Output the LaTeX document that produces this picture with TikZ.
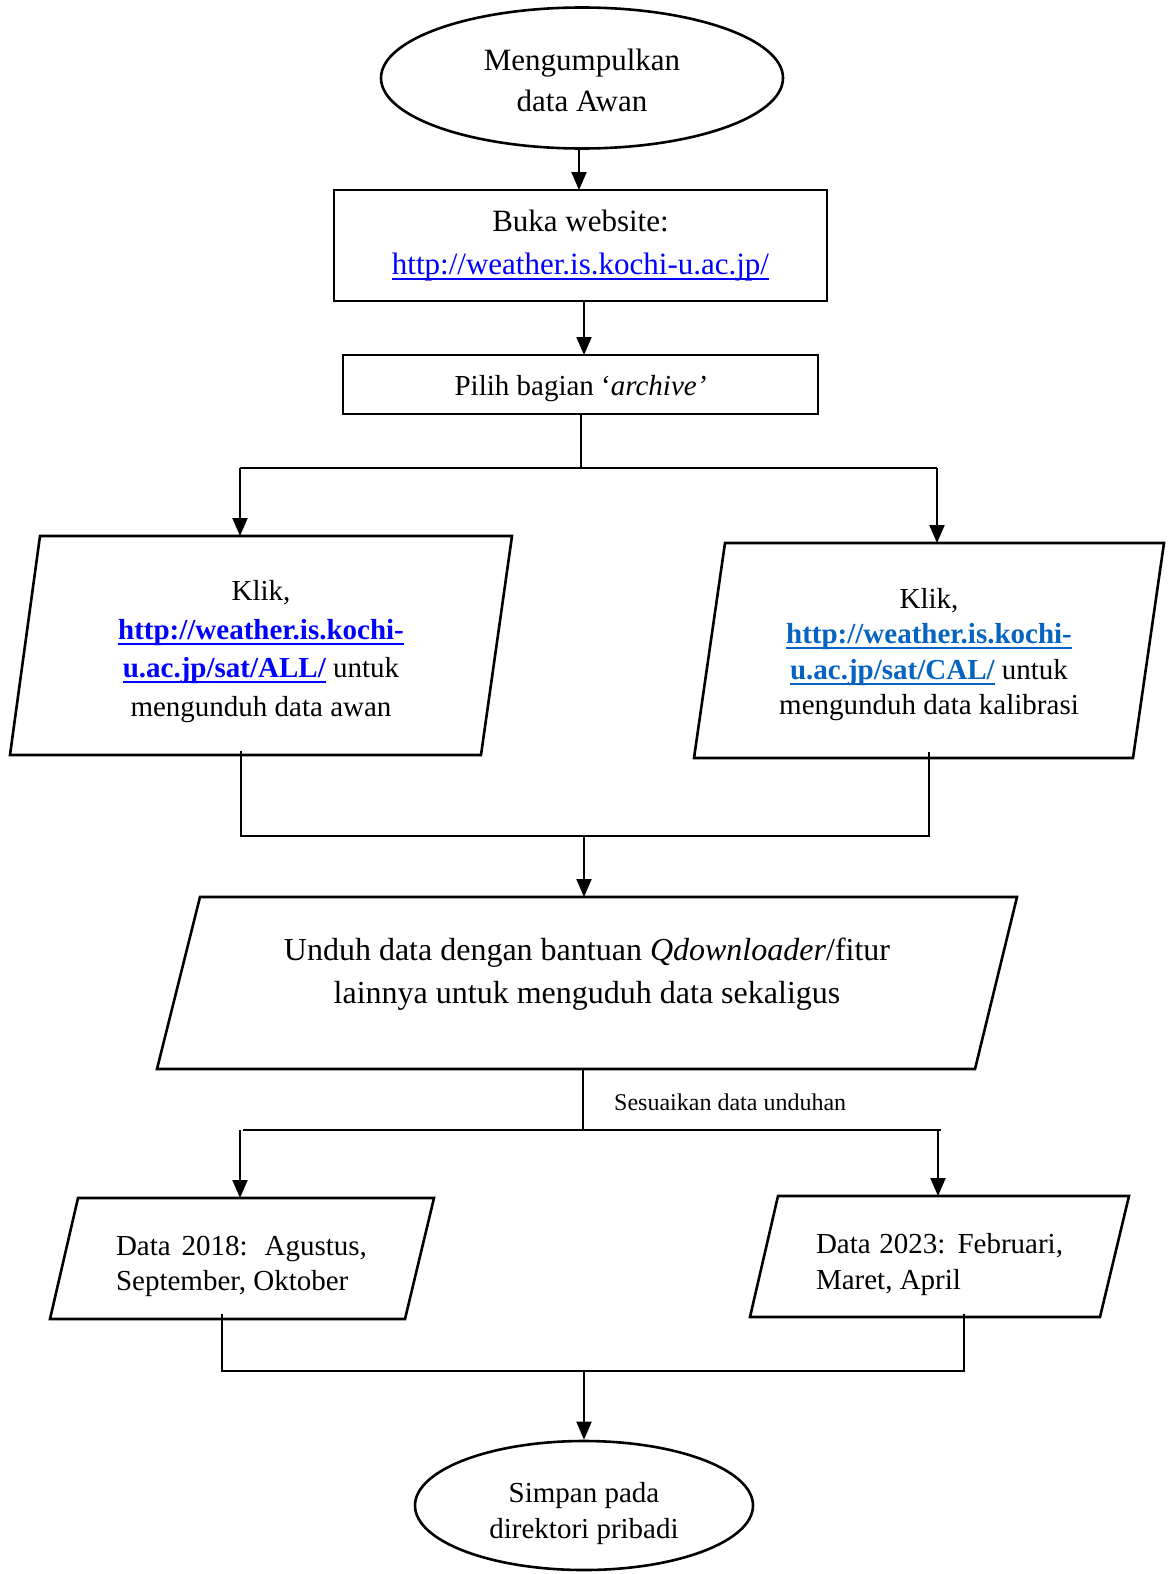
\documentclass[tikz,border=0pt]{standalone}
\usepackage{fontspec}
\setmainfont{Liberation Serif}
\usetikzlibrary{arrows.meta,shapes.geometric}
\definecolor{linkblue}{RGB}{0,0,255}
\definecolor{wordlink}{HTML}{0563C1}
% coloured, underlined hyperlink text
\newcommand\weblink[2]{\textcolor{#1}{\setbox0\hbox{#2}\rlap{\rule[-5.5pt]{\wd0}{2pt}}\box0}}

\tikzset{
  outline/.style={draw, line width=2.6pt, line join=miter},
  conn/.style={line width=2pt},
  thinconn/.style={line width=1.4pt},
  arr/.style={conn, -{Triangle[width=15pt,length=18pt]}},
  txt/.style={align=center, inner sep=0pt, font=\fontsize{29}{38}\selectfont},
  bigtxt/.style={align=center, inner sep=0pt, font=\fontsize{31}{41}\selectfont},
  oval/.style={outline, ellipse, inner sep=0pt},
  box/.style={outline, rectangle, inner sep=0pt},
}

\begin{document}
\begin{tikzpicture}[x=1pt,y=-1pt]
  \path[use as bounding box] (0,0) rectangle (1171,1574);

  % start and first two steps
  \node[oval, minimum width=402pt, minimum height=141pt] (start) at (582,78) {};
  \node[bigtxt] (startTxt) at (582,80) {Mengumpulkan\\data Awan};
  \node[box, bigtxt, font=\fontsize{31}{43}\selectfont,
        minimum width=493pt, minimum height=111pt] (web) at (580.5,245.5)
    {Buka website:\\\weblink{linkblue}{http://weather.is.kochi-u.ac.jp/}};
  \node[box, minimum width=475pt, minimum height=59pt] (arch) at (580.5,384.5) {};
  \node[txt] (archTxt) at (580.5,388.5) {Pilih bagian ‘\textit{archive’}};

  \draw[arr] (start.south -| 579,0) -- (579,190);
  \draw[arr] (web.south -| 584,0) -- (584,355);

  % split towards the two download pages
  \coordinate (splitA) at (581,468);
  \coordinate (splitAL) at (240,468);
  \coordinate (splitAR) at (937,468);
  \draw[thinconn] (arch.south -| splitA) -- (splitA);
  \draw[thinconn] (splitAL) -- (splitAR);

  % left parallelogram: cloud data
  \draw[outline] (40,536) -- (512,536) -- (481,755) -- (10,755) -- cycle;
  \coordinate (allTop) at (240,536);
  \coordinate (allBot) at (241,751);
  \node[txt, font=\fontsize{29}{38.5}\selectfont] (allTxt) at (261,651.5)
    {Klik,\\
     \textbf{\weblink{linkblue}{http://weather.is.kochi-}}\\
     \textbf{\weblink{linkblue}{u.ac.jp/sat/ALL/}} untuk\\
     mengunduh data awan};

  % right parallelogram: calibration data
  \draw[outline] (725,543) -- (1164,543) -- (1133,758) -- (694,758) -- cycle;
  \coordinate (calTop) at (937,543);
  \coordinate (calBot) at (929,752);
  \node[txt, font=\fontsize{29}{35.5}\selectfont] (calTxt) at (929,654.5)
    {Klik,\\
     \textbf{\weblink{wordlink}{http://weather.is.kochi-}}\\
     \textbf{\weblink{wordlink}{u.ac.jp/sat/CAL/}} untuk\\
     mengunduh data kalibrasi};

  \draw[arr] (splitAL) -- (allTop);
  \draw[arr] (splitAR) -- (calTop);

  % merge into the download step
  \coordinate (mergeA) at (584,836);
  \draw[thinconn] (allBot) |- (calBot |- mergeA) -- (calBot);

  % download step
  \draw[outline] (200,897) -- (1017,897) -- (975,1069) -- (157,1069) -- cycle;
  \coordinate (dlTop) at (584,897);
  \coordinate (dlBot) at (583,1069);
  \node[txt, font=\fontsize{32}{43}\selectfont] (dlTxt) at (587,974.5)
    {Unduh data dengan bantuan \textit{Qdownloader}/fitur\\
     lainnya untuk menguduh data sekaligus};
  \draw[arr] (mergeA) -- (dlTop);

  % split by period
  \coordinate (splitB) at (583,1130);
  \coordinate (splitBL) at (240,1130);
  \coordinate (splitBR) at (938,1130);
  \draw[conn] (dlBot) -- (splitB);
  \draw[thinconn] (243,1130) -- (941,1130);
  \node[anchor=west, inner sep=0pt, font=\fontsize{24}{28}\selectfont] (adjust) at (614,1102)
    {Sesuaikan data unduhan};

  % period boxes
  \draw[outline] (78,1198) -- (434,1198) -- (405,1319) -- (50,1319) -- cycle;
  \coordinate (y18Top) at (240,1198);
  \coordinate (y18Bot) at (222,1314);
  \node[txt, align=left, font=\fontsize{29}{35}\selectfont] (y18Txt) at (241.5,1266.5)
    {\makebox[251pt][s]{Data 2018: Agustus,}\\September, Oktober};

  \draw[outline] (778,1196) -- (1129,1196) -- (1100,1317) -- (750,1317) -- cycle;
  \coordinate (y23Top) at (938,1196);
  \coordinate (y23Bot) at (964,1314);
  \node[txt, align=left, font=\fontsize{29}{36}\selectfont] (y23Txt) at (939.5,1265)
    {\makebox[247pt][s]{Data 2023: Februari,}\\Maret, April};

  \draw[arr] (splitBL) -- (y18Top);
  \draw[arr] (splitBR) -- (y23Top);

  % merge into storage
  \coordinate (mergeB) at (584,1371);
  \draw[thinconn] (y18Bot) |- (y23Bot |- mergeB) -- (y23Bot);

  \node[oval, minimum width=338pt, minimum height=129pt] (store) at (584,1505.5) {};
  \node[txt, font=\fontsize{29}{36}\selectfont] (storeTxt) at (584,1514)
    {Simpan pada\\direktori pribadi};
  \draw[arr] (mergeB) -- (store.north);
\end{tikzpicture}
\end{document}
